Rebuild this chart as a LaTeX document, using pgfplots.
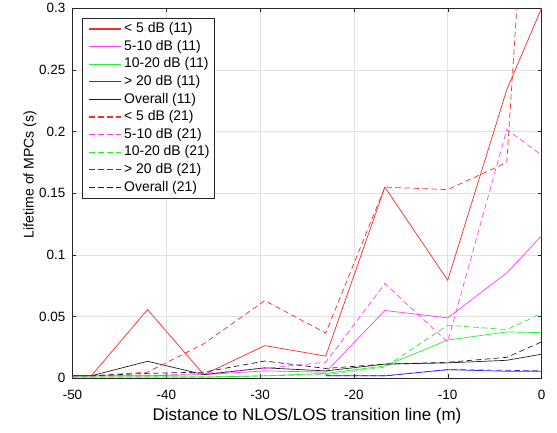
\documentclass[border=0pt]{standalone}
\usepackage{fontspec}
\setmainfont{Liberation Sans}
\usepackage{pgfplots}
\pgfplotsset{compat=1.18}
\definecolor{axgray}{RGB}{38,38,38}
\definecolor{gridgray}{RGB}{225,225,225}
\definecolor{lred}{RGB}{255,40,40}
\definecolor{lmag}{RGB}{255,60,255}
\definecolor{lgreen}{RGB}{40,240,40}
\definecolor{lblue}{RGB}{40,40,255}
\definecolor{lblack}{RGB}{30,30,30}
\tikzset{dsh/.style={dash pattern=on 5.5bp off 3.5bp},
  key/.style={line width=1.1pt},
  ktext/.style={anchor=west, inner sep=0pt, font=\fontsize{14}{16}\selectfont}}

\begin{document}
\begin{tikzpicture}
\begin{axis}[scale only axis, width=469bp, height=370bp,
  xmin=-50, xmax=0, ymin=0, ymax=0.3,
  xtick={-50,-40,...,0}, ytick={0,0.05,...,0.3},
  scaled y ticks=false,
  yticklabel style={/pgf/number format/fixed, /pgf/number format/precision=2,
    inner sep=0pt, anchor=east, xshift=-7bp},
  xticklabel style={inner sep=0pt, anchor=north, yshift=-12bp},
  /pgf/number format/assume math mode=true,
  tick label style={font=\fontsize{13.5}{15}\selectfont},
  xlabel={Distance to NLOS/LOS transition line (m)},
  ylabel={Lifetime of MPCs (s)},
  xlabel style={font=\fontsize{17}{19}\selectfont, inner sep=0pt,
    at={(axis description cs:0.5,-0.081)}, anchor=north},
  ylabel style={font=\fontsize{14.1}{16}\selectfont, inner sep=0pt,
    at={(axis description cs:-0.0906,0.551)}, anchor=center},
  axis line style={axgray, line width=0.5pt},
  tick style={axgray, line width=0.4pt}, major tick length=4bp,
  tick align=inside,
  grid=major, grid style={gridgray, line width=0.6pt},
  every axis plot/.append style={line width=0.7pt}]
  % solid: 11, dashed: 21
  \addplot[draw=lred] coordinates {(-50,0.002) (-48,0.002) (-42,0.0557) (-36,0.003) (-29.5,0.0265) (-23,0.018) (-16.7,0.155) (-10,0.0795) (-3.7,0.234) (0,0.30)};
  \addplot[draw=lmag] coordinates {(-50,0.002) (-48,0.002) (-42,0.002) (-36,0.003) (-29.5,0.006) (-23,0.005) (-16.7,0.055) (-10,0.049) (-3.7,0.0854) (0,0.1155)};
  \addplot[draw=lgreen] coordinates {(-50,0.001) (-48,0.001) (-42,0.001) (-36,0.001) (-29.5,0.002) (-23,0.004) (-16.7,0.010) (-10,0.031) (-3.7,0.0376) (0,0.037)};
  \addplot[draw=lblue] coordinates {(-23,0.002) (-16.7,0.002) (-10,0.007) (-3.7,0.0057) (0,0.0057)};
  \addplot[draw=lblack] coordinates {(-50,0.002) (-48,0.002) (-42,0.0138) (-36,0.003) (-29.5,0.0085) (-23,0.006) (-16.7,0.0115) (-10,0.0125) (-3.7,0.0146) (0,0.0195)};
  \addplot[draw=lred, dsh] coordinates {(-50,0.002) (-48,0.002) (-42,0.005) (-36,0.028) (-29.5,0.063) (-23,0.0367) (-16.7,0.155) (-10,0.153) (-3.7,0.175) (0,0.61)};
  \addplot[draw=lmag, dsh] coordinates {(-50,0.002) (-48,0.002) (-42,0.002) (-36,0.004) (-29.5,0.008) (-23,0.013) (-16.7,0.0768) (-10,0.0295) (-3.7,0.2017) (0,0.181)};
  \addplot[draw=lgreen, dsh] coordinates {(-50,0.001) (-48,0.001) (-42,0.001) (-36,0.001) (-29.5,0.002) (-23,0.003) (-16.7,0.009) (-10,0.043) (-3.7,0.0395) (0,0.0525)};
  \addplot[draw=lblue, dsh] coordinates {(-23,0.002) (-16.7,0.002) (-10,0.007) (-3.7,0.0065) (0,0.006)};
  \addplot[draw=lblack, dsh] coordinates {(-50,0.002) (-48,0.002) (-42,0.004) (-36,0.005) (-29.5,0.014) (-23,0.008) (-16.7,0.0115) (-10,0.013) (-3.7,0.017) (0,0.0295)};
\end{axis}
% legend (drawn in the outer picture)
\begin{scope}[shift={(current axis.north west)}]
  \draw[axgray, line width=0.5pt, fill=white] (9.5bp,-9.7bp) rectangle (142.2bp,-189.7bp);
  \draw[lred, key] (16.5bp,-20.7bp) -- (48.2bp,-20.7bp);
  \node[ktext] at (51.5bp,-20.7bp) {< 5 dB (11)};
  \draw[lmag, key] (16.5bp,-38.3bp) -- (48.2bp,-38.3bp);
  \node[ktext] at (51.5bp,-38.3bp) {5-10 dB (11)};
  \draw[lgreen, key] (16.5bp,-55.9bp) -- (48.2bp,-55.9bp);
  \node[ktext] at (51.5bp,-55.9bp) {10-20 dB (11)};
  \draw[lblue, key] (16.5bp,-73.5bp) -- (48.2bp,-73.5bp);
  \node[ktext] at (51.5bp,-73.5bp) {> 20 dB (11)};
  \draw[lblack, key] (16.5bp,-91.1bp) -- (48.2bp,-91.1bp);
  \node[ktext] at (51.5bp,-91.1bp) {Overall (11)};
  \draw[lred, key, dsh] (16.5bp,-108.7bp) -- (48.2bp,-108.7bp);
  \node[ktext] at (51.5bp,-108.7bp) {< 5 dB (21)};
  \draw[lmag, key, dsh] (16.5bp,-126.3bp) -- (48.2bp,-126.3bp);
  \node[ktext] at (51.5bp,-126.3bp) {5-10 dB (21)};
  \draw[lgreen, key, dsh] (16.5bp,-143.9bp) -- (48.2bp,-143.9bp);
  \node[ktext] at (51.5bp,-143.9bp) {10-20 dB (21)};
  \draw[lblue, key, dsh] (16.5bp,-161.5bp) -- (48.2bp,-161.5bp);
  \node[ktext] at (51.5bp,-161.5bp) {> 20 dB (21)};
  \draw[lblack, key, dsh] (16.5bp,-179.1bp) -- (48.2bp,-179.1bp);
  \node[ktext] at (51.5bp,-179.1bp) {Overall (21)};
\end{scope}
\path ([shift={(-72.5bp,-54bp)}]current axis.south west) rectangle ([shift={(15.5bp,8.3bp)}]current axis.north east);
\end{tikzpicture}
\end{document}
